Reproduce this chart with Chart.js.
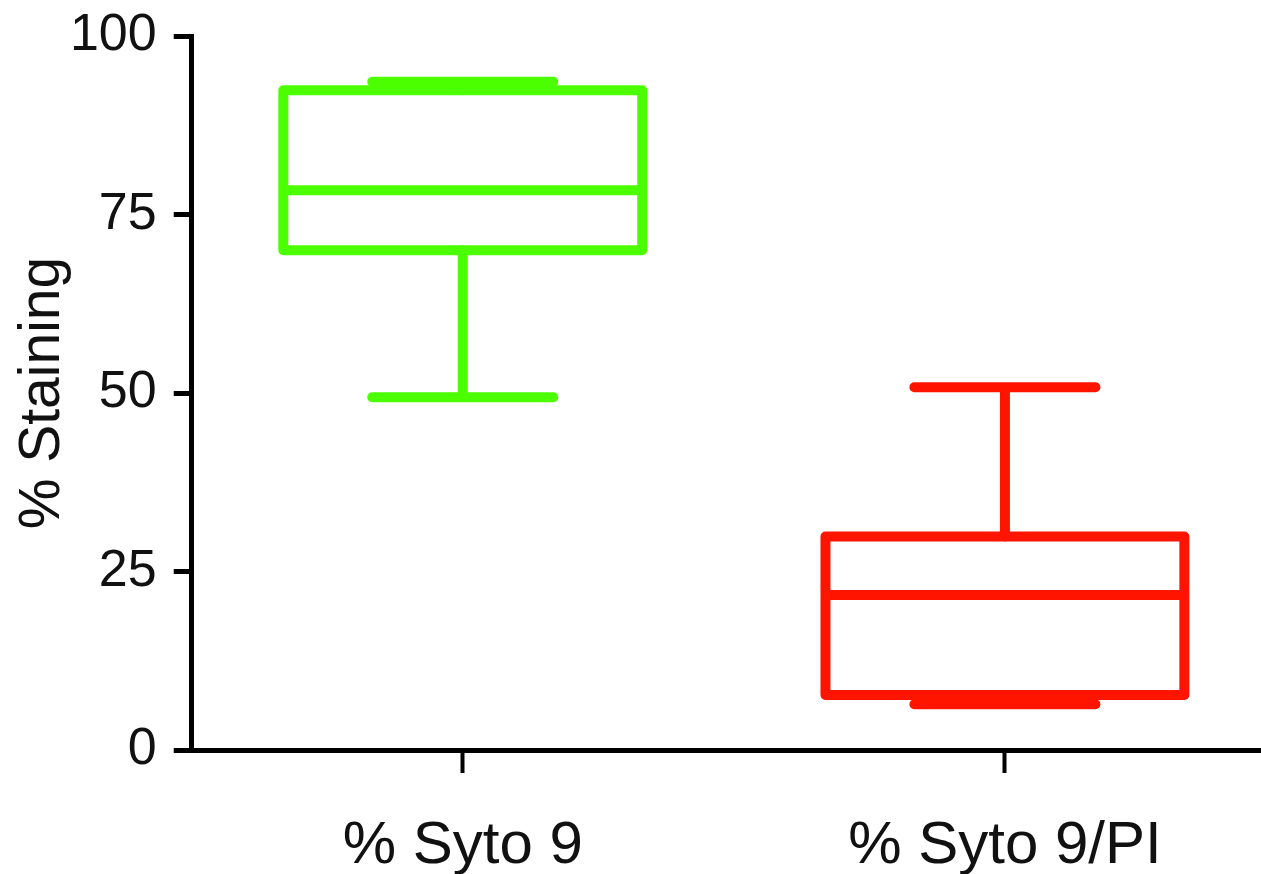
<!DOCTYPE html>
<html>
<head>
<meta charset="utf-8">
<script src="https://cdn.jsdelivr.net/npm/chart.js@4/dist/chart.umd.min.js"></script>
<style>
  html, body { margin: 0; padding: 0; background: #fff; overflow: hidden; }
  #wrap { width: 1261px; height: 874px; overflow: hidden; position: relative; }
  #wrap canvas { position: absolute; left: 0; top: 0; }
</style>
</head>
<body>
<div id="wrap"><canvas id="c" width="1276" height="919"></canvas></div>
<script>
// Box-and-whisker summary per staining group
const categories   = ['% Syto 9', '% Syto 9/PI'];
const whiskerLow   = [49.4, 6.4];
const quartileLow  = [70.0, 7.7];
const medians      = [78.4, 21.7];
const quartileHigh = [92.4, 29.9];
const whiskerHigh  = [93.6, 50.8];
const seriesColors = ['#4cff00', '#ff1400'];
const yTickValues  = [0, 25, 50, 75, 100];

// drawing style
const BOX_FRACTION = 0.662;   // box width as a share of one category slot
const CAP_FRACTION = 0.334;   // whisker cap width as a share of one category slot
const LINE_WIDTH = 10;
const FONT = 'Liberation Sans';

const boxPlotPainter = {
  id: 'boxPlotPainter',
  afterDraw(chart) {
    const { ctx, scales: { x, y } } = chart;
    const slot = x.getPixelForValue(1) - x.getPixelForValue(0);
    const half = slot * BOX_FRACTION / 2;
    const capHalf = slot * CAP_FRACTION / 2;
    ctx.save();
    ctx.lineWidth = LINE_WIDTH;
    ctx.lineJoin = 'round';
    categories.forEach((_, i) => {
      const cx = x.getPixelForValue(i);
      const pLo = y.getPixelForValue(whiskerLow[i]);
      const pQ1 = y.getPixelForValue(quartileLow[i]);
      const pMed = y.getPixelForValue(medians[i]);
      const pQ3 = y.getPixelForValue(quartileHigh[i]);
      const pHi = y.getPixelForValue(whiskerHigh[i]);
      ctx.strokeStyle = seriesColors[i];

      // whiskers and caps
      ctx.lineCap = 'round';
      ctx.beginPath();
      ctx.moveTo(cx, pQ3); ctx.lineTo(cx, pHi);
      ctx.moveTo(cx, pQ1); ctx.lineTo(cx, pLo);
      ctx.moveTo(cx - capHalf, pHi); ctx.lineTo(cx + capHalf, pHi);
      ctx.moveTo(cx - capHalf, pLo); ctx.lineTo(cx + capHalf, pLo);
      ctx.stroke();

      // interquartile box
      ctx.lineCap = 'butt';
      ctx.strokeRect(cx - half, pQ3, 2 * half, pQ1 - pQ3);

      // median
      ctx.beginPath();
      ctx.moveTo(cx - half, pMed); ctx.lineTo(cx + half, pMed);
      ctx.stroke();
    });
    ctx.restore();
  }
};

new Chart(document.getElementById('c'), {
  type: 'bar',
  data: { labels: categories, datasets: [] },
  plugins: [boxPlotPainter],
  options: {
    responsive: false,
    animation: false,
    devicePixelRatio: 1,
    layout: { padding: { left: 33, top: 36, right: 0, bottom: 0 } },
    plugins: { legend: { display: false }, tooltip: { enabled: false }, title: { display: false } },
    scales: {
      x: {
        type: 'category',
        offset: true,
        border: { display: true, color: '#000', width: 5 },
        grid: { display: true, drawOnChartArea: false, offset: false, tickLength: 23, tickWidth: 4, tickColor: '#000' },
        ticks: { padding: 43, color: '#111', autoSkip: false, maxRotation: 0,
                 font: { family: FONT, size: 60, lineHeight: 1 } }
      },
      y: {
        min: 0,
        max: 100,
        border: { display: true, color: '#000', width: 5 },
        grid: { drawOnChartArea: false, tickLength: 18, tickWidth: 5, tickColor: '#000' },
        ticks: { padding: 17, color: '#111', font: { family: FONT, size: 52, lineHeight: 0.7 } },
        afterBuildTicks(scale) { scale.ticks = yTickValues.map(v => ({ value: v })); },
        title: { display: true, text: '% Staining', color: '#111', padding: 0,
                 font: { family: FONT, size: 57, lineHeight: 0.35 } }
      }
    }
  }
});
</script>
</body>
</html>
